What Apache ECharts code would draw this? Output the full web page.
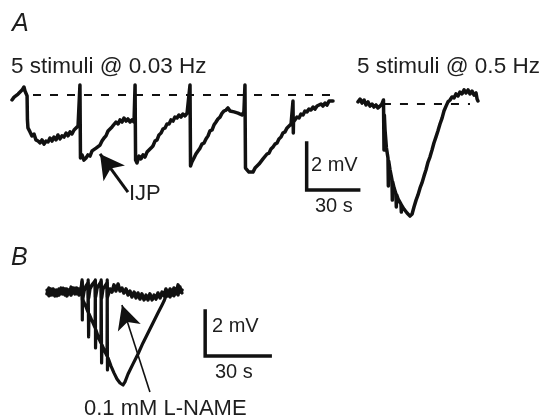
<!DOCTYPE html>
<html>
<head>
<meta charset="utf-8">
<script src="https://cdn.jsdelivr.net/npm/echarts@6/dist/echarts.min.js"></script>
<style>
html,body{margin:0;padding:0;background:#fff;}
#c{width:544px;height:420px;}
</style>
</head>
<body>
<div id="c"></div>
<script>
// ---- DATA (time in s, membrane potential in mV relative to baseline) ----
// Panel A, 5 stimuli @ 0.03 Hz
const traceA1 = [
[0,-0.21],[1.2,-0.09],[2.3,-0.17],[3.5,0.04],[4.6,0],[5.8,0.21],[6.9,0.34],[7.5,0.17],[8.7,-0.04],[8.9,-1.06],
[9.2,-1.40],[10.4,-1.57],[11.5,-1.74],[12.7,-1.66],[13.8,-1.91],[15.0,-1.96],[16.2,-2.04],[17.3,-1.91],[18.5,-2.09],[19.6,-1.96],
[20.8,-2.00],[21.9,-1.83],[23.1,-1.96],[24.2,-1.79],[25.4,-1.91],[26.5,-1.70],[27.7,-1.87],[28.8,-1.74],[30.0,-1.79],[31.2,-1.62],
[32.3,-1.74],[33.5,-1.57],[34.6,-1.66],[35.8,-1.49],[36.9,-1.53],[38.1,-1.32],[38.9,-1.28],
[39.2,0.43],[39.5,-2.68],[40.4,-2.55],[41.5,-2.77],[42.7,-2.68],[43.8,-2.55],[45.0,-2.60],[46.2,-2.38],[47.3,-2.43],[48.5,-2.26],
[49.6,-2.30],[50.8,-2.13],[51.9,-1.96],[53.1,-1.83],[54.2,-1.74],[55.4,-1.53],[56.5,-1.49],[57.7,-1.36],[58.8,-1.32],[60.0,-1.15],
[61.2,-1.23],[62.3,-1.06],[63.5,-1.15],[64.6,-0.98],[65.8,-1.11],[66.9,-1.02],[68.1,-1.15],[69.2,-1.06],[70.4,-1.15],
[71.0,0.43],[71.3,-2.77],[72.1,-2.89],[73.3,-2.60],[74.4,-2.72],[75.6,-2.55],[76.7,-2.64],[77.9,-2.43],[79.0,-2.51],[80.2,-2.26],
[81.3,-2.17],[82.5,-1.96],[83.7,-1.91],[84.8,-1.70],[86.0,-1.62],[87.1,-1.45],[88.3,-1.40],[89.4,-1.23],[90.6,-1.23],[91.7,-1.06],
[92.9,-1.11],[94.0,-0.94],[95.2,-0.98],[96.3,-0.85],[97.5,-0.94],[98.6,-0.81],[99.8,-0.89],[101.0,-0.77],[102.1,-0.85],
[102.7,0.43],[103.0,-3.02],[103.8,-2.85],[105.0,-2.68],[106.1,-2.51],[107.3,-2.38],[108.5,-2.26],[109.6,-2.09],[110.8,-2.04],[111.9,-1.87],
[113.1,-1.74],[114.2,-1.53],[115.4,-1.49],[116.5,-1.28],[117.7,-1.15],[118.8,-1.02],[120.0,-0.94],[121.2,-0.77],[122.3,-0.68],[123.5,-0.64],
[124.6,-0.55],[125.8,-0.68],[126.9,-0.60],[128.1,-0.72],[129.2,-0.68],[130.4,-0.77],[131.5,-0.72],[132.7,-0.85],[133.8,-0.72],
[134.4,0.43],[134.7,-3.11],[135.5,-3.19],[136.7,-3.28],[137.8,-3.36],[139.0,-3.28],[140.2,-3.11],[141.3,-3.11],[142.5,-2.94],[143.6,-2.89],
[144.8,-2.72],[145.9,-2.68],[147.1,-2.51],[148.3,-2.47],[149.4,-2.30],[150.6,-2.21],[151.7,-2.09],[152.9,-2.04],[154.0,-1.87],[155.2,-1.79],
[156.3,-1.62],[157.5,-1.57],[158.7,-1.40],[159.8,-1.36],[161.0,-1.23],[162.1,-0.26],[162.3,-1.62],[162.4,-1.15],[163.3,-1.11],[164.4,-0.94],
[165.6,-0.98],[166.7,-0.81],[167.9,-0.85],[169.0,-0.68],[170.2,-0.72],[171.3,-0.60],[172.5,-0.64],[173.7,-0.51],[174.8,-0.60],[176.0,-0.47],
[177.1,-0.51],[178.3,-0.38],[179.4,-0.47],[180.6,-0.34],[181.7,-0.43],[182.9,-0.26],[184.0,-0.34],[185.2,-0.26]
];
// Panel A, 5 stimuli @ 0.5 Hz
const traceA2 = [
[0,0.09],[1.2,0.21],[2.3,0.04],[3.5,0.17],[4.6,-0.04],[5.8,0.09],[6.9,-0.09],[8.1,0],[9.2,-0.13],[10.4,-0.04],
[11.5,-0.17],[12.7,-0.09],[13.8,0],[14.7,0.17],[15.0,-1.96],[15.2,-0.47],[15.6,-1.11],[16.4,-1.87],[17.3,-2.30],[17.5,-3.49],
[17.7,-2.43],[18.5,-2.81],[19.6,-3.23],[19.8,-4.09],[20.0,-3.32],[20.8,-3.57],[21.9,-3.83],[22.1,-4.38],[22.3,-3.87],[23.1,-4.04],
[24.8,-4.26],[25.0,-4.60],[25.1,-4.30],[26.5,-4.47],[28.3,-4.64],[30.0,-4.77],[31.2,-4.68],[32.3,-4.38],[33.5,-4.09],[34.6,-3.87],
[35.8,-3.57],[36.9,-3.36],[38.1,-3.06],[39.2,-2.81],[40.4,-2.47],[41.5,-2.26],[42.7,-1.96],[43.8,-1.66],[45.0,-1.40],[46.1,-1.15],
[47.3,-0.85],[48.5,-0.60],[49.6,-0.30],[50.8,-0.09],[51.9,0.09],[53.1,0.17],[54.2,0.30],[55.4,0.26],[56.5,0.43],[57.7,0.34],
[58.8,0.51],[60.0,0.43],[61.2,0.60],[62.3,0.47],[63.5,0.60],[64.6,0.43],[65.8,0.55],[66.9,0.38],[68.1,0.47],[68.7,0.21],[69.2,0.13]
];
// Panel B, control trace
const traceBctrl = [
[0,0.13],[0.9,-0.13],[1.8,0.18],[2.8,-0.09],[3.7,0.13],[4.6,-0.13],[5.5,0.18],[6.5,-0.04],[7.4,0.22],[8.3,-0.09],
[9.2,0.18],[10.2,-0.04],[11.1,0.27],[12.0,0],[12.9,0.22],[13.8,-0.04],[14.8,0.18],[15.7,0.04],
[16.2,0.58],[16.3,-1.20],[16.4,-0.27],[18.0,-0.62],[18.9,-0.84],[19.0,0.58],[19.2,-1.95],[19.4,-0.93],[20.8,-1.24],
[22.2,-1.55],[22.3,0.58],[22.4,-2.44],[22.6,-1.64],[24.0,-2.04],[24.9,-2.22],[25.0,0.58],[25.2,-3.11],[25.4,-2.31],
[26.8,-2.62],[27.7,-2.80],[27.8,0.58],[27.9,-3.42],[28.2,-2.89],[29.5,-3.24],[30.9,-3.55],[32.3,-3.82],[33.7,-4.00],
[35.1,-4.09],[36.0,-3.95],[37.4,-3.60],[39.7,-3.15],[42.0,-2.71],[44.3,-2.22],[46.6,-1.78],[48.9,-1.33],[51.2,-0.89],
[53.1,-0.53],[54.0,-0.36],[54.9,-0.13],[55.8,0.09],[56.8,-0.18],[57.7,0.13],[58.6,-0.13],[59.5,0.18],[60.5,-0.09],[61.4,0.27],[62.3,0]
];
// Panel B, 0.1 mM L-NAME trace
const traceBlname = [
[0,-0.04],[0.9,0.22],[1.8,-0.09],[2.8,0.18],[3.7,-0.13],[4.6,0.13],[5.5,-0.09],[6.5,0.22],[7.4,-0.04],[8.3,0.18],
[9.2,-0.13],[10.2,0.13],[11.1,-0.09],[12.0,0.22],[12.9,-0.04],[13.8,0.22],[14.8,-0.09],[15.7,0.18],
[16.2,0.49],[16.4,-0.31],[17.1,0.09],[18.0,0.31],[18.9,0.44],[19.2,-0.22],[19.8,0.18],[20.8,0.36],[22.2,0.53],[22.4,-0.18],
[23.1,0.22],[24.0,0.36],[24.9,0.49],[25.2,-0.22],[25.8,0.18],[26.8,0.31],[27.7,0.44],[27.9,-0.18],[29.1,0.18],[30.0,0.04],
[30.9,0.36],[31.8,0.09],[32.8,0.40],[33.7,0.09],[34.6,0.22],[35.5,0],[36.5,0.18],[37.4,-0.09],[38.3,0.09],[39.2,-0.18],
[40.2,0.04],[41.1,-0.22],[42.0,0],[42.9,-0.27],[43.8,-0.04],[44.8,-0.31],[45.7,-0.09],[46.6,-0.31],[47.5,-0.04],[48.5,-0.31],
[49.4,-0.09],[50.3,-0.27],[51.2,0],[52.2,-0.22],[53.1,0.04],[54.0,-0.13],[54.9,0.18],[55.8,-0.13],[56.8,0.18],[57.7,-0.09],
[58.6,0.22],[59.5,-0.04],[60.5,0.36],[61.4,0.04],[62.3,0.13]
];
// Baselines (dashed), scale bars (2 mV / 30 s), arrows
const baselineA1 = [[12.1,0],[183.5,0]];
const baselineA2 = [[14.4,0],[64.6,0]];
const scaleBarA = [[170,-2.04],[170,-4.04],[200,-4.04]];
const scaleBarB = [[73,-0.8],[73,-2.8],[103,-2.8]];
const arrowIJP = [[66.9,-4.13],[50.8,-2.51]];
const arrowLNAME = [[47.5,-4.40],[34.6,-0.53]];
const labels = {
  a: 'A', b: 'B',
  stimSlow: '5 stimuli @ 0.03 Hz', stimFast: '5 stimuli @ 0.5 Hz',
  ijp: 'IJP', mv: '2 mV', s: '30 s', lname: '0.1 mM L-NAME'
};

// ---- CHART ----
const chart = echarts.init(document.getElementById('c'), null, {renderer: 'canvas'});
const FONT = '"Liberation Sans", Arial, Helvetica, sans-serif';
const INK = '#111';
const TXT = '#1e1e1e';

function axisPair(gi, xmin, xmax, ymin, ymax) {
  return {
    x: {type: 'value', gridIndex: gi, min: xmin, max: xmax, show: false},
    y: {type: 'value', gridIndex: gi, min: ymin, max: ymax, show: false}
  };
}
const aA1 = axisPair(0, 0, 210, -5, 1.5);
const aA2 = axisPair(1, 0, 80, -5, 1.5);
const aB = axisPair(2, 0, 110, -5, 1);

function trace(data, gi, w) {
  return {type: 'line', xAxisIndex: gi, yAxisIndex: gi, data: data, showSymbol: false,
    symbol: 'none', silent: true, clip: false,
    lineStyle: {color: INK, width: w, join: 'round', cap: 'round'}};
}
function dashed(data, gi) {
  return {type: 'line', xAxisIndex: gi, yAxisIndex: gi, data: data, showSymbol: false,
    symbol: 'none', silent: true,
    lineStyle: {color: INK, width: 2, type: [8, 9]}};
}
function bar(data, gi, w) {
  return {type: 'line', xAxisIndex: gi, yAxisIndex: gi, data: data, showSymbol: false,
    symbol: 'none', silent: true, clip: false,
    lineStyle: {color: INK, width: w, join: 'miter', cap: 'square'}};
}
function arrow(pts, gi, w, size) {
  return {type: 'line', xAxisIndex: gi, yAxisIndex: gi, data: [], showSymbol: false, silent: true,
    markLine: {silent: true, symbol: ['none', 'arrow'], symbolSize: size, label: {show: false},
      lineStyle: {color: INK, width: w, type: 'solid'},
      itemStyle: {color: INK},
      emphasis: {disabled: true},
      data: [[{coord: pts[0]}, {coord: pts[1]}]]}};
}

const option = {
  animation: false,
  backgroundColor: '#ffffff',
  grid: [
    {left: 12, top: 59.75, width: 364, height: 152.75},
    {left: 358, top: 68.75, width: 138.67, height: 152.75},
    {left: 47, top: 270.5, width: 238.33, height: 135}
  ],
  xAxis: [aA1.x, aA2.x, aB.x],
  yAxis: [aA1.y, aA2.y, aB.y],
  series: [
    dashed(baselineA1, 0),
    dashed(baselineA2, 1),
    trace(traceA1, 0, 3.5),
    trace(traceA2, 1, 3.5),
    trace(traceBlname, 2, 3.5),
    trace(traceBctrl, 2, 3.2),
    bar(scaleBarA, 0, 3.5),
    bar(scaleBarB, 2, 3.5),
    arrow(arrowIJP, 0, 3, [20, 24]),
    arrow(arrowLNAME, 2, 1.6, [18, 24])
  ],
  graphic: [
    {type: 'text', left: 12, top: 12, style: {text: labels.a, font: 'italic 25px ' + FONT, fill: TXT}},
    {type: 'text', left: 11, top: 246, style: {text: labels.b, font: 'italic 25px ' + FONT, fill: TXT}},
    {type: 'text', left: 11, top: 55, style: {text: labels.stimSlow, font: '22.5px ' + FONT, fill: TXT}},
    {type: 'text', left: 357, top: 55, style: {text: labels.stimFast, font: '22.5px ' + FONT, fill: TXT}},
    {type: 'text', left: 129, top: 183, style: {text: labels.ijp, font: '22px ' + FONT, fill: TXT}},
    {type: 'text', left: 311, top: 155, style: {text: labels.mv, font: '20px ' + FONT, fill: TXT}},
    {type: 'text', left: 315, top: 196, style: {text: labels.s, font: '20px ' + FONT, fill: TXT}},
    {type: 'text', left: 212, top: 316, style: {text: labels.mv, font: '20px ' + FONT, fill: TXT}},
    {type: 'text', left: 215, top: 362, style: {text: labels.s, font: '20px ' + FONT, fill: TXT}},
    {type: 'text', left: 84, top: 398, style: {text: labels.lname, font: '22px ' + FONT, fill: TXT}}
  ]
};
chart.setOption(option);
</script>
</body>
</html>
